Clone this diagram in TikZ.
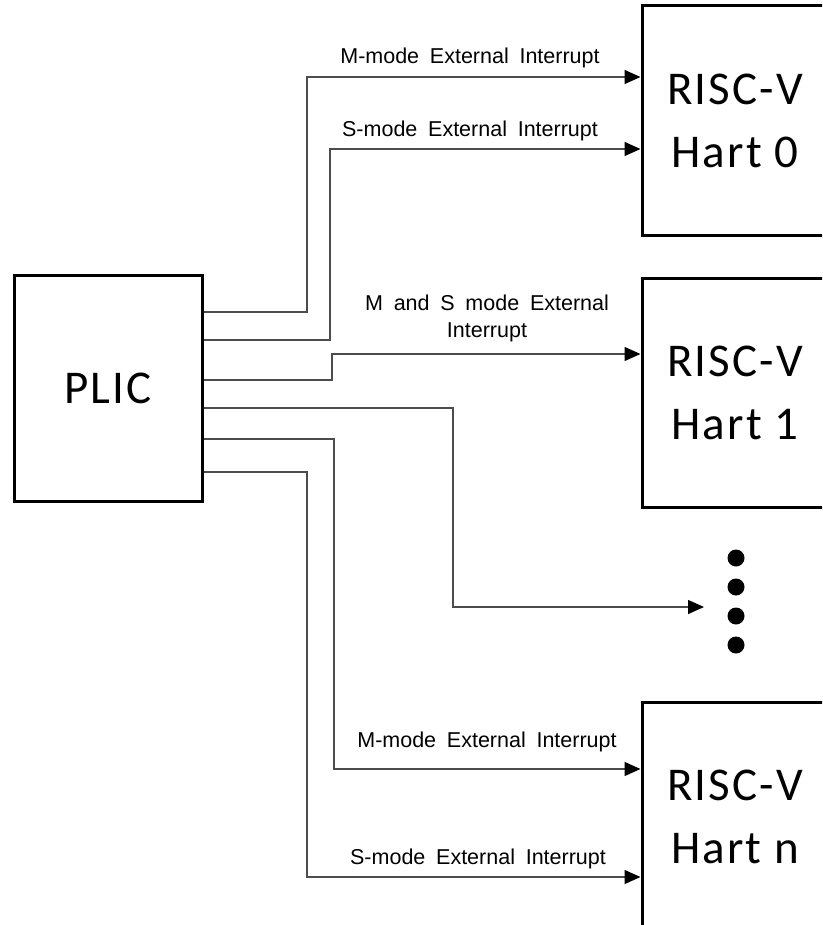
\documentclass[tikz,border=0pt]{standalone}
\usepackage{fontspec}
\newfontfamily\labfont{Liberation Sans}
\newfontfamily\hartfont[LetterSpace=4.5]{Carlito}
\usetikzlibrary{arrows.meta}
\begin{document}
\begin{tikzpicture}[x=1pt,y=-1pt,
  blk/.style={draw, line width=3pt, inner sep=0pt, align=center,
    font=\hartfont\fontsize{47}{63}\selectfont},
  hart/.style={blk, minimum width=186pt, minimum height=229pt},
  wire/.style={line width=1.3pt, draw=black!70,
    -{Triangle[length=16pt,width=14pt,color=black]}},
  lab/.style={inner sep=0pt, align=center,
    font=\labfont\fontsize{21.5}{27}\selectfont,
    execute at begin node={\spaceskip=0.5em\relax}},
  dot/.style={circle, fill=black, minimum size=17pt, inner sep=0pt}]
\useasboundingbox (0,0) rectangle (822,925);
\clip (0,0) rectangle (822,925);
\fill[white] (0,0) rectangle (822,925);

\node[blk, minimum width=188pt, minimum height=226pt] (plic) at (108,388) {PLIC};
\node[hart] (h0) at (735,120.5) {RISC-V\\Hart 0};
\node[hart] (h1) at (735,393) {RISC-V\\Hart 1};
\node[hart] (hn) at (735,817) {RISC-V\\Hart n};

\node[dot] (d1) at (736,558) {};
\node[dot] (d2) at (736,587) {};
\node[dot] (d3) at (736,616) {};
\node[dot] (d4) at (736,645) {};
\coordinate (dotsin) at (704,607);

\draw[wire] (plic.east |- 0,312) -| (307,77) -- (h0.west |- 0,77);
\draw[wire] (plic.east |- 0,340) -| (330,149) -- (h0.west |- 0,149);
\draw[wire] (plic.east |- 0,380) -| (332,354) -- (h1.west |- 0,354);
\draw[wire] (plic.east |- 0,408) -| (453,607) -- (dotsin);
\draw[wire] (plic.east |- 0,439) -| (334,769) -- (hn.west |- 0,769);
\draw[wire] (plic.east |- 0,472) -| (307,877) -- (hn.west |- 0,877);

\node[lab, anchor=base] (l1) at (470,64) {M-mode External Interrupt};
\node[lab, anchor=base] (l2) at (470,137) {S-mode External Interrupt};
\node[lab] (l3) at (487,318) {M and S mode External\\Interrupt};
\node[lab, anchor=base] (l4) at (487,747) {M-mode External Interrupt};
\node[lab, anchor=base] (l5) at (478,864) {S-mode External Interrupt};
\end{tikzpicture}
\end{document}
